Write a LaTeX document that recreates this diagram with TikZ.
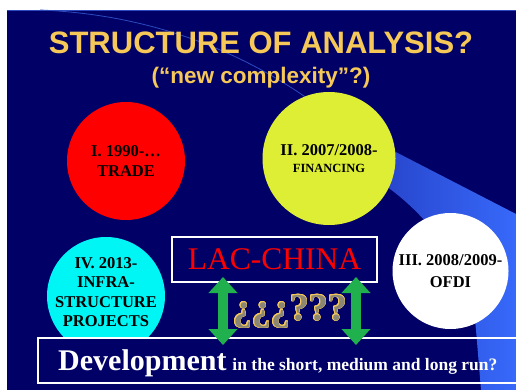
\documentclass[tikz,border=0pt]{standalone}
\usepackage{fontspec}
\setmainfont{Liberation Serif}
\newfontfamily\headfont{Liberation Sans}
\usepackage{contour}
\contourlength{0.7pt}
\usetikzlibrary{arrows, arrows.meta}

\definecolor{slide}{RGB}{0,0,102}
\definecolor{gold}{RGB}{245,200,88}
\definecolor{bandL}{RGB}{40,70,205}
\definecolor{bandR}{RGB}{55,105,250}
\definecolor{lime}{RGB}{222,238,52}
\definecolor{aqua}{RGB}{0,245,245}
\definecolor{arrowgreen}{RGB}{32,176,78}
\definecolor{qgray}{RGB}{140,134,116}
\definecolor{arcblue}{RGB}{45,75,190}

\tikzset{
    disc/.style={circle, inner sep=0pt, minimum size=#1, align=center,
        font=\bfseries\fontsize{16.5}{19.5}\selectfont},
    whitebox/.style={draw=white, line width=1.8pt, inner sep=0pt},
    updown/.style={arrowgreen, line width=10pt,
        {Triangle[length=16pt,width=28pt]}-{Triangle[length=16pt,width=28pt]}},
}

\begin{document}
\begin{tikzpicture}[x=1pt,y=-1pt]
    \clip (0,0) rectangle (516,390);
    \fill[white] (0,0) rectangle (516,390);
    \fill[slide] (7,10) rectangle (516,390);
    \draw[arcblue, line width=0.6pt] (7,10.3) to (516,10.3);
    % light band behind the circles
    \shade[left color=bandL, right color=bandR]
        (388,148) -- (516,214) -- (516,390) -- (481,390) -- (476,330)
        .. controls (472,280) and (440,225) .. (386,186) -- cycle;
    \draw[arcblue, line width=0.8pt] (40,10) .. controls (140,14) and (240,45) .. (330,115);

    \node[text=gold, font=\headfont\bfseries\fontsize{31}{31}\selectfont] (title) at (261,42.5) {STRUCTURE OF ANALYSIS?};
    \node[text=gold, font=\headfont\bfseries\fontsize{22.5}{22.5}\selectfont] (subtitle) at (261,78) {(“new complexity”?)};

    \node[disc=118pt, fill=red] (trade) at (126,161) {I. 1990-…\\TRADE};
    \node[disc=133pt, fill=lime] (financing) at (329,158.5) {II. 2007/2008-\\[-3pt]{\fontsize{12.5}{14}\selectfont FINANCING}};
    \node[disc=116pt, fill=white] (ofdi) at (450.5,271) {III. 2008/2009-\\[2pt]OFDI};
    \begin{scope}
        \clip (0,0) rectangle (516,338);
        \node[disc=118pt, fill=aqua] (infra) at (106,296) {};
    \end{scope}
    \node[align=center, font=\bfseries\fontsize{16.5}{19.5}\selectfont] (infratext) at (106,292) {IV. 2013-\\INFRA-\\STRUCTURE\\PROJECTS};

    \node[whitebox, minimum width=205pt, minimum height=45pt, text=red,
        font=\fontsize{31.5}{32}\selectfont] (lacchina) at (274.5,259.5) {LAC-CHINA};
    \node[whitebox, minimum width=500pt, minimum height=45pt, anchor=west] (devel) at (37,360.5) {};
    \node[anchor=base west, inner sep=0pt, text=white, font=\bfseries] (devtext) at (58,370)
        {{\fontsize{30}{30}\selectfont Development}\hspace{6pt}{\fontsize{17.5}{18}\selectfont in the short, medium and long run?}};

    \coordinate (up1) at (223,277);
    \coordinate (dn1) at (223,345);
    \coordinate (up2) at (356,277);
    \coordinate (dn2) at (356,345);
    \draw[updown] (up1) to (dn1);
    \draw[updown] (up2) to (dn2);

    \node[anchor=base, text=qgray, font=\bfseries\fontsize{38}{38}\selectfont] (quest) at (290,320) {\contour{gold}{¿¿¿???}};
\end{tikzpicture}
\end{document}
